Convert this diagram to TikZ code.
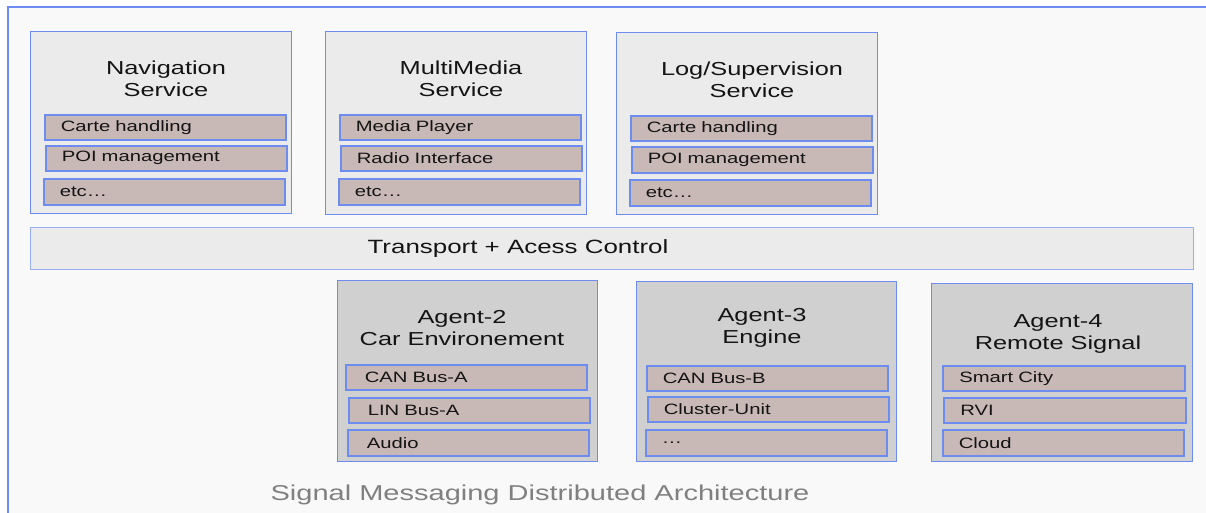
\documentclass[tikz,border=0pt]{standalone}
\usepackage{fontspec}
\setmainfont{Liberation Sans}[FakeStretch=1.35]
\definecolor{frameblue}{RGB}{108,140,240}
\definecolor{bgpage}{RGB}{249,249,249}
\definecolor{svcfill}{RGB}{235,235,235}
\definecolor{agentfill}{RGB}{208,208,208}
\definecolor{itemfill}{RGB}{200,184,182}
\definecolor{txt}{RGB}{20,20,20}
\definecolor{captxt}{RGB}{128,128,128}
\tikzset{
  boxsvc/.style={draw=frameblue, line width=1.3pt, fill=svcfill, anchor=north west, inner sep=0pt},
  boxagent/.style={draw=frameblue, line width=1.3pt, fill=agentfill, anchor=north west, inner sep=0pt},
  itembox/.style={draw=frameblue, line width=1.6pt, fill=itemfill, anchor=north west, inner ysep=0pt, inner xsep=16pt,
    minimum width=241pt, minimum height=25pt, text width=209pt, align=left, font=\fontsize{15}{18}\selectfont, text=txt},
  titletext/.style={align=center, font=\fontsize{18.8}{22}\selectfont, text=txt, inner sep=0pt},
}
\begin{document}
\begin{tikzpicture}[x=1pt,y=-1pt]
\useasboundingbox (0,0) rectangle (1206,513);
\fill[white] (0,0) rectangle (1206,513);
\fill[bgpage] (8,7) rectangle (1206,513);
\draw[frameblue, line width=1.5pt] (8,513) -- (8,7) -- (1206,7);

% Services
\node[boxsvc, minimum width=261pt, minimum height=182pt] (nav) at (30,31) {};
\node[titletext] (navt) at (166,79) {Navigation\\Service};
\node[itembox] (nav1) at (44,114) {Carte handling};
\node[itembox] (nav2) at (45,145) {POI management};
\node[itembox, minimum height=26pt] (nav3) at (43,178) {etc…};

\node[boxsvc, minimum width=261pt, minimum height=183pt] (mm) at (325,31) {};
\node[titletext] (mmt) at (461,79) {MultiMedia\\Service};
\node[itembox] (mm1) at (339,114) {Media Player};
\node[itembox] (mm2) at (340,145) {Radio Interface};
\node[itembox, minimum height=26pt] (mm3) at (338,178) {etc…};

\node[boxsvc, minimum width=261pt, minimum height=182pt] (log) at (616,32) {};
\node[titletext] (logt) at (752,80) {Log/Supervision\\Service};
\node[itembox] (log1) at (630,115) {Carte handling};
\node[itembox, minimum height=26pt] (log2) at (631,146) {POI management};
\node[itembox, minimum height=26pt] (log3) at (629,179) {etc…};

% Transport
\node[boxsvc, draw=frameblue!70, line width=1pt, minimum width=1163pt, minimum height=42pt] (tr) at (30,227) {};
\node[titletext, font=\fontsize{19.2}{22}\selectfont] (trt) at (518,249) {Transport + Acess Control};

% Agents
\node[boxagent, minimum width=260pt, minimum height=181pt] (a2) at (337,280) {};
\node[titletext] (a2t) at (462,328) {Agent-2\\Car Environement};
\node[itembox, inner xsep=19pt, text width=203pt] (a21) at (345,364) {CAN Bus-A};
\node[itembox, inner xsep=19pt, text width=203pt] (a22) at (348,397) {LIN Bus-A};
\node[itembox, inner xsep=19pt, text width=203pt, minimum height=26pt] (a23) at (347,429) {Audio};

\node[boxagent, minimum width=260pt, minimum height=180pt] (a3) at (636,281) {};
\node[titletext] (a3t) at (762,328) {Agent-3\\Engine};
\node[itembox] (a31) at (646,365) {CAN Bus-B};
\node[itembox] (a32) at (647,396) {Cluster-Unit};
\node[itembox, minimum height=26pt] (a33) at (645,429) {…};

\node[boxagent, minimum width=261pt, minimum height=178pt] (a4) at (931,283) {};
\node[titletext] (a4t) at (1058,334) {Agent-4\\Remote Signal};
\node[itembox, minimum width=242pt] (a41) at (942,365) {Smart City};
\node[itembox, minimum width=242pt] (a42) at (943,397) {RVI};
\node[itembox, minimum width=241pt, minimum height=26pt] (a43) at (942,429) {Cloud};

% Caption
\node[text=captxt, font=\fontsize{21.5}{24}\selectfont, inner sep=0pt] (cap) at (540,495) {Signal Messaging Distributed Architecture};
\end{tikzpicture}
\end{document}
